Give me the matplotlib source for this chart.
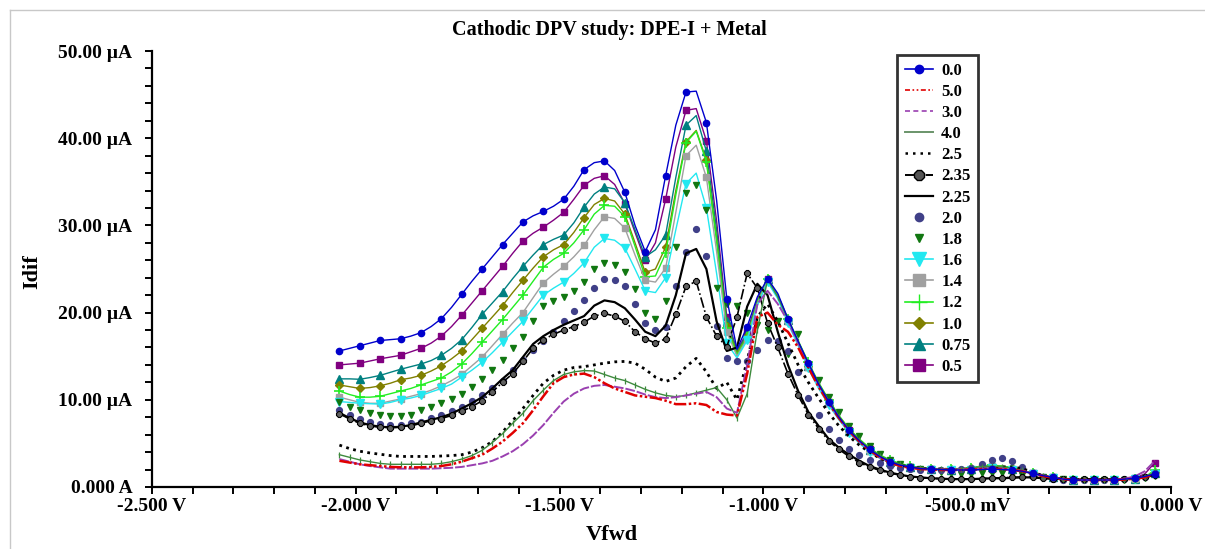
import numpy as np
import matplotlib
matplotlib.use("Agg")
import matplotlib.pyplot as plt
from matplotlib.lines import Line2D

# forward potential (V), 25 mV steps
vfwd = np.round(np.linspace(-2.04, -0.04, 81), 3)

# differential current (uA) per concentration
idif_0_0 = [15.6, 15.9, 16.2, 16.5, 16.8, 16.9, 17.0, 17.3, 17.7, 18.4,
            19.3, 20.6, 22.1, 23.6, 25.0, 26.4, 27.8, 29.1, 30.4, 31.1,
            31.6, 32.2, 33.0, 34.5, 36.4, 37.2, 37.4, 36.3, 33.8, 30.0,
            27.0, 29.5, 35.7, 41.5, 45.3, 45.4, 41.8, 32.9, 21.6, 15.8,
            18.4, 21.8, 23.9, 22.2, 19.3, 16.7, 14.2, 11.8, 9.8, 8.0,
            6.5, 5.3, 4.3, 3.5, 2.9, 2.5, 2.3, 2.1, 2.05, 2.0,
            1.95, 1.95, 1.95, 2.0, 2.05, 2.0, 1.95, 1.8, 1.55, 1.3,
            1.1, 0.9, 0.8, 0.8, 0.8, 0.8, 0.8, 0.9, 1.0, 1.2,
            1.5]
idif_5_0 = [3.0, 2.8, 2.6, 2.5, 2.4, 2.3, 2.26, 2.25, 2.25, 2.3,
            2.4, 2.6, 2.9, 3.3, 3.7, 4.4, 5.2, 6.2, 7.3, 8.8,
            10.4, 11.9, 12.6, 12.9, 13.0, 12.6, 11.9, 11.3, 10.9, 10.5,
            10.35, 10.2, 9.9, 9.5, 9.5, 9.6, 9.4, 8.6, 8.3, 8.2,
            13.0, 19.5, 20.0, 18.6, 17.8, 16.0, 13.7, 11.5, 9.6, 7.9,
            6.4, 5.2, 4.2, 3.4, 2.8, 2.4, 2.2, 2.05, 2.0, 1.95,
            1.95, 1.95, 2.0, 2.05, 2.1, 2.05, 1.95, 1.8, 1.5, 1.25,
            1.05, 0.9, 0.8, 0.8, 0.8, 0.8, 0.8, 0.85, 0.95, 1.1,
            1.5]
idif_3_0 = [3.2, 2.9, 2.6, 2.4, 2.25, 2.1, 2.1, 2.1, 2.1, 2.1,
            2.15, 2.2, 2.3, 2.5, 2.7, 3.0, 3.5, 4.1, 4.9, 5.9,
            7.1, 8.5, 9.8, 10.7, 11.3, 11.6, 11.7, 11.5, 11.3, 11.0,
            10.6, 10.3, 10.2, 10.3, 10.5, 10.7, 10.9, 10.3, 9.0, 8.5,
            14.0, 21.0, 22.5, 21.0, 19.0, 16.5, 14.0, 11.7, 9.7, 7.9,
            6.4, 5.2, 4.2, 3.4, 2.85, 2.45, 2.25, 2.1, 2.05, 2.0,
            2.0, 2.0, 2.05, 2.1, 2.15, 2.1, 2.0, 1.85, 1.55, 1.3,
            1.1, 0.9, 0.8, 0.8, 0.8, 0.8, 0.85, 0.95, 1.2, 1.8,
            3.0]
idif_4_0 = [3.7, 3.4, 3.1, 2.9, 2.7, 2.6, 2.6, 2.6, 2.6, 2.6,
            2.7, 2.9, 3.2, 3.6, 4.2, 5.1, 6.1, 7.3, 8.45, 9.9,
            11.1, 12.2, 12.9, 13.2, 13.35, 13.3, 12.9, 12.5, 12.2, 11.7,
            11.2, 10.8, 10.5, 10.35, 10.5, 10.8, 11.1, 11.4, 10.0, 7.9,
            10.7, 18.0, 23.8, 21.8, 19.2, 16.7, 14.2, 11.9, 9.9, 8.1,
            6.6, 5.4, 4.4, 3.6, 3.0, 2.6, 2.35, 2.2, 2.1, 2.05,
            2.05, 2.1, 2.2, 2.3, 2.4, 2.3, 2.15, 1.9, 1.6, 1.3,
            1.1, 0.9, 0.8, 0.8, 0.8, 0.8, 0.8, 0.85, 0.95, 1.1,
            1.7]
idif_2_5 = [4.8, 4.4, 4.1, 3.9, 3.75, 3.6, 3.5, 3.5, 3.5, 3.5,
            3.55, 3.6, 3.7, 4.0, 4.5, 5.2, 6.3, 7.6, 9.0, 10.5,
            11.9, 12.8, 13.4, 13.7, 13.8, 14.0, 14.2, 14.35, 14.4, 14.2,
            13.5, 12.6, 12.1, 12.5, 13.8, 14.75, 13.2, 11.3, 12.0, 10.0,
            14.5, 19.5, 21.0, 19.0, 16.5, 14.0, 12.0, 10.2, 8.5, 7.0,
            5.8, 4.8, 4.0, 3.3, 2.8, 2.5, 2.3, 2.15, 2.1, 2.05,
            2.0, 2.0, 2.05, 2.1, 2.2, 2.3, 2.3, 2.1, 1.7, 1.3,
            1.0, 0.9, 0.85, 0.85, 0.85, 0.85, 0.85, 0.9, 1.0, 1.1,
            1.4]
idif_2_35 = [8.4, 7.8, 7.3, 7.0, 6.85, 6.8, 6.85, 7.0, 7.3, 7.6,
             7.85, 8.2, 8.7, 9.2, 9.9, 10.9, 12.0, 13.0, 14.4, 15.9,
             16.9, 17.5, 18.0, 18.4, 18.9, 19.6, 19.9, 19.6, 19.0, 17.8,
             17.0, 16.5, 17.0, 19.8, 23.0, 23.6, 19.5, 17.3, 16.1, 19.5,
             24.5, 22.8, 18.8, 16.0, 13.0, 10.5, 8.3, 6.7, 5.3, 4.3,
             3.5, 2.8, 2.3, 1.9, 1.6, 1.35, 1.2, 1.05, 1.0, 0.95,
             0.9, 0.9, 0.9, 0.95, 1.0, 1.05, 1.1, 1.15, 1.1, 1.0,
             0.95, 0.9, 0.9, 0.9, 0.9, 0.9, 0.9, 0.95, 1.0, 1.1,
             1.4]
idif_2_25 = [8.5, 7.9, 7.4, 7.1, 6.9, 6.85, 6.9, 7.1, 7.4, 7.7,
             8.0, 8.4, 9.0, 9.6, 10.3, 11.3, 12.4, 13.4, 14.9, 16.4,
             17.3, 18.0, 18.6, 19.1, 19.6, 20.8, 21.4, 21.2, 20.5, 19.2,
             17.8, 17.3, 18.5, 22.0, 26.8, 27.3, 25.0, 19.0, 15.6, 16.0,
             20.7, 23.3, 22.0, 17.8, 14.0, 11.0, 8.6, 7.0, 5.5, 4.5,
             3.7, 3.0, 2.4, 2.0, 1.65, 1.4, 1.2, 1.1, 1.0, 0.95,
             0.9, 0.9, 0.9, 0.95, 1.0, 1.0, 1.05, 1.1, 1.1, 1.0,
             0.95, 0.9, 0.85, 0.85, 0.85, 0.85, 0.85, 0.9, 1.0, 1.1,
             1.4]
idif_2_0 = [8.8, 8.2, 7.8, 7.45, 7.25, 7.1, 7.1, 7.3, 7.5, 7.9,
            8.3, 8.7, 9.2, 9.9, 10.6, 11.3, 12.2, 13.4, 14.6, 15.7,
            16.7, 17.8, 19.0, 20.2, 21.5, 22.8, 23.8, 23.7, 23.0, 21.0,
            18.8, 18.0, 18.4, 23.0, 27.0, 29.6, 26.5, 18.5, 14.8, 14.4,
            14.4, 15.7, 16.9, 16.7, 15.6, 13.2, 10.2, 8.2, 6.6, 5.4,
            4.4, 3.7, 3.1, 2.7, 2.4, 2.2, 2.1, 2.0, 2.0, 2.0,
            2.0, 2.05, 2.2, 2.6, 3.1, 3.3, 3.0, 2.3, 1.5, 1.1,
            0.9, 0.8, 0.8, 0.8, 0.8, 0.8, 0.85, 0.9, 1.0, 1.2,
            1.6]
idif_1_8 = [9.7, 9.2, 8.8, 8.5, 8.3, 8.15, 8.1, 8.3, 8.8, 9.2,
            9.6, 10.1, 10.7, 11.5, 12.4, 13.4, 14.6, 15.9, 17.2, 19.0,
            20.7, 21.3, 21.8, 22.5, 23.5, 25.0, 25.7, 25.5, 24.7, 22.7,
            20.0, 19.3, 21.3, 27.5, 33.7, 34.6, 31.8, 22.8, 21.0, 20.7,
            19.9, 18.6, 18.0, 19.0, 15.3, 17.5, 14.0, 12.3, 10.3, 8.6,
            7.0, 5.8, 4.7, 3.8, 3.1, 2.6, 2.3, 2.1, 1.9, 1.7,
            1.6, 1.5, 1.5, 1.55, 1.6, 1.6, 1.5, 1.4, 1.3, 1.2,
            1.0, 0.9, 0.8, 0.75, 0.75, 0.75, 0.8, 0.85, 0.9, 1.0,
            1.3]
idif_1_6 = [9.8, 9.7, 9.6, 9.55, 9.5, 9.7, 10.0, 10.2, 10.5, 10.9,
            11.3, 11.8, 12.6, 13.4, 14.3, 15.4, 16.6, 17.8, 19.0, 20.5,
            22.0, 22.8, 23.5, 24.5, 25.7, 27.5, 28.5, 28.3, 27.4, 25.0,
            22.5, 22.3, 24.0, 29.5, 34.8, 36.0, 32.0, 24.5, 16.5, 14.8,
            16.8, 20.8, 23.5, 21.6, 18.8, 16.2, 13.6, 11.3, 9.4, 7.7,
            6.2, 5.0, 4.0, 3.3, 2.75, 2.4, 2.2, 2.05, 2.0, 1.95,
            1.95, 1.95, 2.0, 2.1, 2.2, 2.1, 2.0, 1.8, 1.5, 1.25,
            1.05, 0.9, 0.8, 0.8, 0.8, 0.8, 0.8, 0.85, 0.95, 1.1,
            1.5]
idif_1_4 = [10.3, 10.0, 9.7, 9.6, 9.6, 9.85, 10.1, 10.4, 10.7, 11.1,
            11.6, 12.2, 12.9, 13.9, 14.9, 16.2, 17.5, 18.8, 20.0, 21.7,
            23.4, 24.4, 25.3, 26.4, 27.7, 29.5, 31.0, 30.8, 29.7, 26.6,
            23.7, 23.5, 25.1, 31.5, 38.0, 39.2, 35.5, 27.0, 17.8, 15.0,
            17.0, 21.0, 23.7, 21.8, 19.0, 16.4, 13.8, 11.5, 9.6, 7.8,
            6.3, 5.1, 4.1, 3.3, 2.8, 2.45, 2.25, 2.1, 2.05, 2.0,
            2.0, 2.0, 2.1, 2.3, 2.4, 2.3, 2.1, 1.85, 1.55, 1.3,
            1.1, 0.9, 0.8, 0.8, 0.8, 0.8, 0.8, 0.85, 0.95, 1.1,
            1.6]
idif_1_2 = [11.0, 10.6, 10.3, 10.3, 10.4, 10.7, 11.0, 11.3, 11.7, 12.1,
            12.5, 13.2, 14.1, 15.3, 16.6, 17.9, 19.2, 20.6, 22.0, 23.6,
            25.2, 26.1, 26.8, 28.0, 29.5, 31.3, 32.3, 32.2, 31.0, 27.6,
            24.1, 24.2, 26.8, 33.5, 39.5, 40.8, 37.3, 28.2, 18.2, 15.2,
            17.2, 21.2, 23.8, 22.0, 19.3, 16.8, 14.3, 12.0, 10.0, 8.2,
            6.7, 5.5, 4.5, 3.7, 3.1, 2.7, 2.4, 2.2, 2.1, 2.1,
            2.1, 2.1, 2.2, 2.4, 2.5, 2.4, 2.2, 1.9, 1.6, 1.3,
            1.1, 0.9, 0.8, 0.8, 0.8, 0.8, 0.8, 0.85, 0.95, 1.1,
            2.0]
idif_1_0 = [11.7, 11.5, 11.3, 11.4, 11.6, 11.9, 12.3, 12.5, 12.8, 13.3,
            13.9, 14.7, 15.6, 16.9, 18.2, 19.5, 20.8, 22.3, 23.7, 25.1,
            26.4, 27.2, 27.8, 29.2, 30.9, 32.4, 33.1, 32.8, 31.3, 28.0,
            24.6, 25.0, 27.5, 34.0, 39.6, 40.9, 37.5, 28.5, 18.5, 15.4,
            17.3, 21.2, 23.8, 21.9, 19.1, 16.5, 13.9, 11.6, 9.7, 7.9,
            6.4, 5.2, 4.2, 3.4, 2.85, 2.5, 2.3, 2.1, 2.1, 2.1,
            2.1, 2.1, 2.2, 2.4, 2.5, 2.4, 2.2, 1.9, 1.6, 1.3,
            1.1, 0.9, 0.8, 0.8, 0.8, 0.8, 0.8, 0.85, 0.95, 1.1,
            1.7]
idif_0_75 = [12.4, 12.4, 12.35, 12.55, 12.8, 13.15, 13.5, 13.8, 14.1, 14.5,
             15.1, 15.9, 16.9, 18.3, 19.8, 21.1, 22.4, 23.9, 25.3, 26.6,
             27.8, 28.4, 28.9, 30.3, 32.1, 33.6, 34.4, 34.2, 32.6, 29.5,
             26.4, 27.2, 28.9, 35.5, 41.5, 42.6, 38.5, 29.5, 19.0, 15.6,
             17.5, 21.3, 23.8, 21.9, 19.1, 16.5, 13.9, 11.6, 9.7, 7.9,
             6.4, 5.2, 4.2, 3.4, 2.85, 2.5, 2.3, 2.1, 2.05, 2.0,
             2.0, 2.0, 2.1, 2.2, 2.3, 2.25, 2.1, 1.85, 1.55, 1.3,
             1.1, 0.9, 0.8, 0.8, 0.8, 0.8, 0.8, 0.85, 0.95, 1.1,
             1.6]
idif_0_5 = [14.0, 14.1, 14.2, 14.45, 14.7, 14.9, 15.1, 15.5, 15.9, 16.5,
            17.3, 18.4, 19.7, 21.1, 22.5, 23.9, 25.3, 26.8, 28.2, 29.1,
            29.8, 30.6, 31.5, 33.0, 34.6, 35.4, 35.7, 34.7, 32.5, 29.2,
            26.0, 28.0, 33.0, 39.0, 43.2, 43.4, 39.7, 30.5, 19.5, 15.6,
            17.8, 21.5, 23.9, 22.0, 19.2, 16.6, 14.0, 11.7, 9.8, 8.0,
            6.5, 5.3, 4.3, 3.5, 2.9, 2.5, 2.3, 2.1, 2.05, 2.0,
            1.95, 1.95, 1.95, 2.0, 2.05, 2.0, 1.95, 1.8, 1.55, 1.3,
            1.1, 0.9, 0.8, 0.8, 0.8, 0.8, 0.8, 0.9, 1.0, 1.5,
            2.8]

labels = ["0.0", "5.0", "3.0", "4.0", "2.5", "2.35", "2.25", "2.0",
          "1.8", "1.6", "1.4", "1.2", "1.0", "0.75", "0.5"]
curves = [idif_0_0, idif_5_0, idif_3_0, idif_4_0, idif_2_5, idif_2_35,
          idif_2_25, idif_2_0, idif_1_8, idif_1_6, idif_1_4, idif_1_2,
          idif_1_0, idif_0_75, idif_0_5]

xtick_vals = [-2.5, -2.0, -1.5, -1.0, -0.5, 0.0]
xtick_text = ["-2.500 V", "-2.000 V", "-1.500 V", "-1.000 V", "-500.0 mV", "0.000 V"]
ytick_vals = [0, 10, 20, 30, 40, 50]
ytick_text = ["0.000 A", "10.00 \u00b5A", "20.00 \u00b5A", "30.00 \u00b5A",
              "40.00 \u00b5A", "50.00 \u00b5A"]

# plot styles (line / marker), same order as labels
styles = [
    dict(color="#0000cc", lw=1.0, marker="o", ms=4.5, markevery=2),
    dict(color="#e00000", lw=1.8, ls=(0, (5, 1, 1, 1, 1, 1))),
    dict(color="#9a40b0", lw=1.4, ls=(0, (5, 1))),
    dict(color="#3d8a3d", lw=1.0, marker="|", ms=5, mew=0.9),
    dict(color="black", lw=2.0, ls=(0, (1, 1.6))),
    dict(color="black", lw=1.2, ls="-.", marker="8", ms=4.5, mfc="#606060", mec="black", mew=0.8),
    dict(color="black", lw=1.6),
    dict(color="#404088", lw=0, marker="o", ms=4.2),
    dict(color="#117711", lw=0, marker="v", ms=4.8),
    dict(color="#22e8f0", lw=1.0, marker="v", ms=6, markevery=2),
    dict(color="#a0a0a0", lw=1.0, marker="s", ms=4.8, markevery=2),
    dict(color="#22ee22", lw=1.0, marker="+", ms=7, mew=1.2, markevery=2),
    dict(color="#808000", lw=1.0, marker="D", ms=4.2, markevery=2),
    dict(color="#008080", lw=1.0, marker="^", ms=6, markevery=2),
    dict(color="#800080", lw=1.0, marker="s", ms=4.8, markevery=2),
]
legend_styles = [
    dict(color="#0000cc", lw=1.2, marker="o", ms=6),
    dict(color="#e00000", lw=1.2, ls=(0, (3, 1.5, 1, 1.5, 1, 1.5))),
    dict(color="#9a40b0", lw=1.2, ls=(0, (3, 2))),
    dict(color="#6a946a", lw=1.4),
    dict(color="black", lw=1.8, ls=(0, (1, 2))),
    dict(color="black", lw=1.4, ls="-.", marker="8", ms=8, mfc="#555555", mec="black"),
    dict(color="black", lw=1.6),
    dict(color="#404088", lw=0, marker="o", ms=6),
    dict(color="#117711", lw=0, marker="v", ms=6),
    dict(color="#22e8f0", lw=1.2, marker="v", ms=10),
    dict(color="#a0a0a0", lw=1.2, marker="s", ms=9),
    dict(color="#22ee22", lw=1.2, marker="+", ms=12),
    dict(color="#808000", lw=1.2, marker="D", ms=6),
    dict(color="#008080", lw=1.2, marker="^", ms=9),
    dict(color="#800080", lw=1.2, marker="s", ms=9),
]

plt.rcParams["font.family"] = ["Liberation Serif", "DejaVu Serif"]
plt.rcParams["font.weight"] = "bold"

fig = plt.figure(figsize=(12.05, 5.49), dpi=100)
ax = fig.add_axes([0.126, 0.113, 0.846, 0.794])

# draw from bottom of legend upwards so the top curves stay on top
for y, st in reversed(list(zip(curves, styles))):
    ax.plot(vfwd, y, **st)

ax.set_xlim(-2.5, 0.0)
ax.set_ylim(0, 50)
ax.set_xticks(xtick_vals)
ax.set_xticklabels(xtick_text)
ax.set_xticks(np.arange(-2.5, 0.01, 0.1), minor=True)
ax.set_yticks(ytick_vals)
ax.set_yticklabels(ytick_text)
ax.set_yticks(np.arange(0, 50.1, 2), minor=True)
ax.tick_params(which="both", direction="out", length=5, width=1.4, labelsize=14)
ax.tick_params(axis="x", pad=3)
ax.tick_params(axis="y", pad=9)
for lab in ax.get_xticklabels() + ax.get_yticklabels():
    lab.set_fontweight("bold")
ax.spines["top"].set_visible(False)
ax.spines["right"].set_visible(False)
ax.spines["left"].set_linewidth(1.6)
ax.spines["bottom"].set_linewidth(1.6)
ax.patch.set_alpha(0)

fig.text(0.506, 0.945, "Cathodic DPV study: DPE-I + Metal", ha="center", va="center",
         fontsize=14.5, fontweight="bold")
fig.text(0.508, 0.025, "Vfwd", ha="center", va="center", fontsize=16, fontweight="bold")
fig.text(0.027, 0.505, "Idif", ha="center", va="center", rotation=90, fontsize=16,
         fontweight="bold")

handles = [Line2D([], [], **st) for st in legend_styles]
leg = fig.legend(handles, labels, loc="upper left", bbox_to_anchor=(0.7444, 0.8998),
                 bbox_transform=fig.transFigure, borderaxespad=0, frameon=True,
                 fancybox=False, edgecolor="black", handlelength=1.7, handletextpad=0.5,
                 labelspacing=0.31, borderpad=0.45, prop={"weight": "bold", "size": 12})
leg.get_frame().set_linewidth(2.0)

# thin grey frame at the top/left of the image
fig.add_artist(Line2D([10 / 1205, 1.0], [1 - 10 / 549, 1 - 10 / 549], color="#c8c8c8",
                      lw=1.0, transform=fig.transFigure))
fig.add_artist(Line2D([10 / 1205, 10 / 1205], [0.0, 1 - 10 / 549], color="#c8c8c8",
                      lw=1.0, transform=fig.transFigure))

fig.savefig("out.png", dpi=100)
